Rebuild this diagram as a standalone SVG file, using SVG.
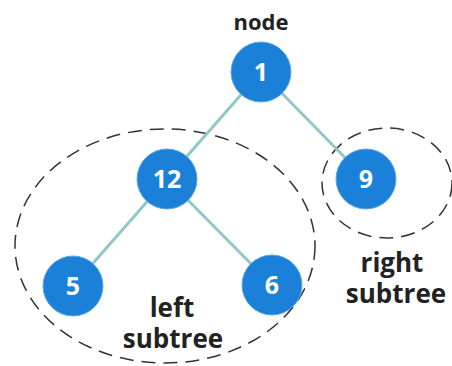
<svg xmlns="http://www.w3.org/2000/svg" width="452" height="366" viewBox="0 0 452 366">
<style>
.n circle{fill:#1b80d8;stroke:#5fa8e6;stroke-width:1}
.n text{fill:#fff;font-family:"Open Sans","Liberation Sans",sans-serif;font-weight:bold;font-size:25px;text-anchor:middle}
.lbl{fill:#222;font-family:"Open Sans","Liberation Sans",sans-serif;font-weight:bold;text-anchor:middle}
.grp{fill:none;stroke:#333;stroke-width:1.5;stroke-dasharray:14 8}
.e{stroke:#93c6c9;stroke-width:3}
</style>
<rect width="452" height="366" fill="#fff"/>
<ellipse class="grp" cx="165" cy="246" rx="150" ry="117"/>
<ellipse class="grp" cx="387" cy="183" rx="65" ry="55"/>
<g id="connectors">
<line class="e" x1="261" y1="72" x2="167" y2="179"/>
<line class="e" x1="261" y1="72" x2="366" y2="179"/>
<line class="e" x1="167" y1="179" x2="73" y2="286"/>
<line class="e" x1="167" y1="179" x2="272" y2="285"/>
</g>
<text class="lbl" x="261" y="30" font-size="22">node</text>
<g id="n1" class="n"><circle cx="261" cy="72" r="30"/><text x="261" y="81">1</text></g>
<g id="n12" class="n"><circle cx="167" cy="179" r="30"/><text x="167" y="188">12</text></g>
<g id="n9" class="n"><circle cx="366" cy="179" r="30"/><text x="366" y="188">9</text></g>
<g id="n5" class="n"><circle cx="73" cy="286" r="30"/><text x="73" y="295">5</text></g>
<g id="n6" class="n"><circle cx="272" cy="285" r="30"/><text x="272" y="294">6</text></g>
<text class="lbl" font-size="26"><tspan x="172" y="317">left</tspan><tspan x="173" y="348">subtree</tspan></text>
<text class="lbl" font-size="26"><tspan x="392" y="272">right</tspan><tspan x="396" y="303">subtree</tspan></text>
</svg>
